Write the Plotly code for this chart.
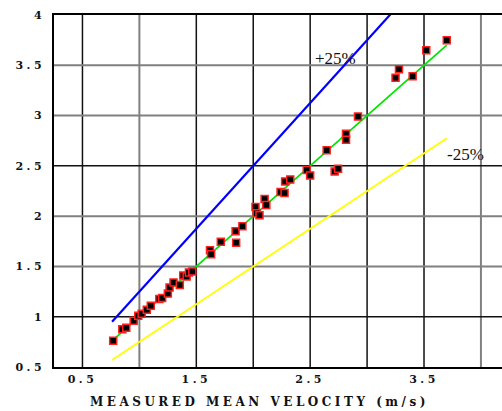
import plotly.graph_objects as go

# measured vs predicted mean velocity (m/s)
measured = [0.77, 0.85, 0.885, 0.95, 0.99, 1.02, 1.065, 1.10, 1.175, 1.20, 1.25, 1.265,
            1.30, 1.355, 1.385, 1.415, 1.435, 1.465, 1.62, 1.63, 1.715, 1.845, 1.85, 1.905,
            2.02, 2.03, 2.055, 2.10, 2.115, 2.24, 2.275, 2.28, 2.325, 2.47, 2.50, 2.645,
            2.715, 2.745, 2.815, 2.815, 2.92, 3.25, 3.28, 3.40, 3.52, 3.70]
predicted = [0.76, 0.875, 0.89, 0.96, 1.01, 1.03, 1.07, 1.11, 1.175, 1.185, 1.23, 1.29,
             1.34, 1.315, 1.41, 1.40, 1.44, 1.45, 1.66, 1.62, 1.745, 1.85, 1.735, 1.90,
             2.09, 2.03, 2.01, 2.17, 2.11, 2.24, 2.23, 2.345, 2.365, 2.46, 2.405, 2.655,
             2.445, 2.47, 2.82, 2.76, 2.99, 3.375, 3.46, 3.39, 3.65, 3.75]

# reference lines (end points)
fit_x = [0.76, 3.70]
fit_y = [0.76, 3.70]
plus_x = [0.76, 3.70]
plus_y = [0.95, 4.625]
minus_x = [0.76, 3.70]
minus_y = [0.57, 2.775]

y_tickvals = [0.5, 1, 1.5, 2, 2.5, 3, 3.5, 4]
y_ticktext = ["0.5", "1", "1.5", "2", "2.5", "3", "3.5", "4"]
x_tickvals = [0.5, 1.5, 2.5, 3.5]
x_ticktext = ["0.5", "1.5", "2.5", "3.5"]
x_title = "MEASURED MEAN VELOCITY (m/s)"

x_grid = [0.5, 1.0, 1.5, 2.0, 2.5, 3.0, 3.5, 4.0]
x_grid_dark = [True, False, True, True, True, True, True, False]
y_grid = [1.0, 1.5, 2.0, 2.5, 3.0, 3.5]
y_grid_dark = [True, False, False, True, False, False]

SP = '<span style="letter-spacing:3.5px">{}</span>'
SPT = '<span style="letter-spacing:3.5px">{}</span>'
TF = "DejaVu Serif"

fig = go.Figure()

shapes = []
for g, d in zip(x_grid, x_grid_dark):
    shapes.append(dict(type="line", xref="x", yref="paper", x0=g, x1=g, y0=0, y1=1,
                       layer="below",
                       line=dict(color="#111111" if d else "#808080", width=1.5 if d else 2)))
for g, d in zip(y_grid, y_grid_dark):
    shapes.append(dict(type="line", xref="paper", yref="y", x0=0, x1=1, y0=g, y1=g,
                       layer="below",
                       line=dict(color="#111111" if d else "#808080", width=1.5 if d else 2)))

fig.add_trace(go.Scatter(x=plus_x, y=plus_y, mode="lines",
                         line=dict(color="#0000ff", width=2.2), showlegend=False))
fig.add_trace(go.Scatter(x=minus_x, y=minus_y, mode="lines",
                         line=dict(color="#ffff00", width=1.8), showlegend=False))
fig.add_trace(go.Scatter(x=fit_x, y=fit_y, mode="lines",
                         line=dict(color="#00e600", width=1.8), showlegend=False))
fig.add_trace(go.Scatter(x=measured, y=predicted, mode="markers",
                         marker=dict(symbol="square", size=7, color="#000000",
                                     line=dict(color="#ff2020", width=1.5)),
                         showlegend=False))

fig.add_annotation(x=2.72, y=3.57, text="+25%", showarrow=False,
                   font=dict(family="Liberation Serif", size=17, color="#111111"))
fig.add_annotation(x=3.86, y=2.615, text="-25%", showarrow=False,
                   font=dict(family="Liberation Serif", size=17, color="#111111"))
fig.add_annotation(xref="paper", yref="paper", x=0.4576, y=-0.1, xanchor="center",
                   yanchor="middle", text=SPT.format(x_title), showarrow=False,
                   font=dict(family=TF, size=12, color="#111111", weight="bold"))

fig.update_layout(
    width=502, height=411,
    margin=dict(l=54, r=0, t=15, b=44),
    paper_bgcolor="white", plot_bgcolor="white",
    shapes=shapes,
    xaxis=dict(range=[0.25, 4.185], showgrid=False, zeroline=False,
               tickvals=x_tickvals, ticktext=[SP.format(t) for t in x_ticktext],
               showline=True, linecolor="black", linewidth=1.5, mirror=True,
               ticks="", ticklabelstandoff=1,
               tickfont=dict(family=TF, size=11, color="#111111", weight="bold")),
    yaxis=dict(range=[0.5, 4.0], showgrid=False, zeroline=False,
               tickvals=y_tickvals, ticktext=[SP.format(t) for t in y_ticktext],
               showline=True, linecolor="black", linewidth=1.5,
               ticks="", ticklabelstandoff=5,
               tickfont=dict(family=TF, size=11, color="#111111", weight="bold")),
)

fig.write_html("out.html", config={"displayModeBar": False},
               post_script="document.body.style.margin='0';document.body.style.overflow='hidden';")
